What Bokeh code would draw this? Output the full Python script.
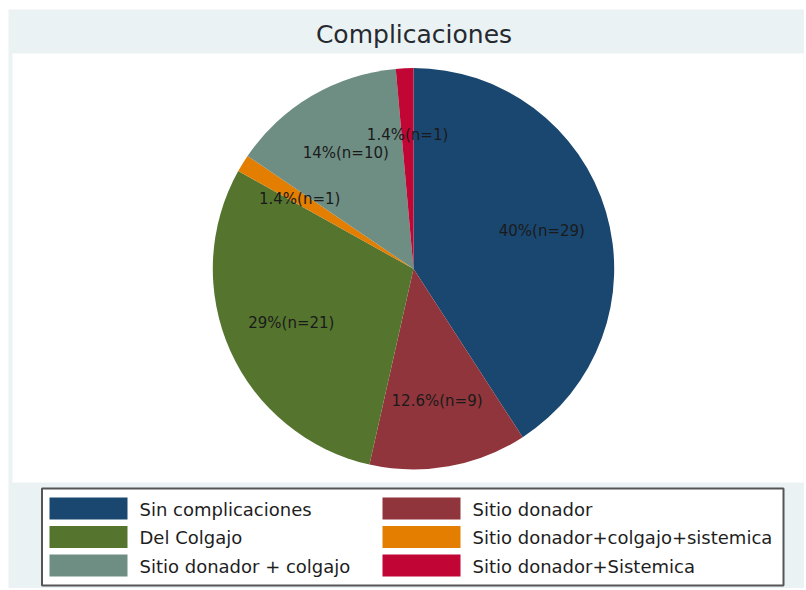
from bokeh.plotting import figure
from bokeh.models import Range1d, ColumnDataSource
from bokeh.embed import file_html
from bokeh.resources import INLINE
from bokeh.core.properties import value
import numpy as np

# ---- data ----
title = "Complicaciones"
categories = ["Sin complicaciones", "Sitio donador", "Del Colgajo",
              "Sitio donador+colgajo+sistemica", "Sitio donador + colgajo",
              "Sitio donador+Sistemica"]
counts = [29, 9, 21, 1, 10, 1]
pct_labels = ["40%", "12.6%", "29%", "1.4%", "14%", "1.4%"]
colors = ["#1a476f", "#90353b", "#55752f", "#e37e00", "#6e8e84", "#c10534"]

# ---- layout (coordinates given in page pixels) ----
W, H = 804, 588
OX, OY = 0, 0
FONT = "DejaVu Sans"
BG = "#eaf2f3"


def fx(px):
    return px - OX


def fy(py):
    return H - (py - OY)


p = figure(width=W, height=H, x_range=Range1d(0, W), y_range=Range1d(0, H),
           output_backend="svg", toolbar_location=None, min_border=0,
           x_axis_type=None, y_axis_type=None,
           background_fill_color="white", border_fill_color="white",
           outline_line_color=None)
p.grid.visible = False

# graph region
p.quad(left=fx(8), right=fx(W + 2), top=fy(9), bottom=fy(H + 2),
       fill_color=BG, line_color=None)
# plot region
p.quad(left=fx(12), right=fx(803), top=fy(53), bottom=fy(482),
       fill_color="white", line_color=None)

# title
p.text(x=[fx(413.5)], y=[fy(33.5)], text=[title], text_align="center",
       text_baseline="middle", text_font=value(FONT),
       text_font_size="25px", text_color="#262a30")

# pie
cx, cy, R = fx(413), fy(268.3), 200.7
cnt = np.array(counts, dtype=float)
total = cnt.sum()
cum = np.concatenate([[0.0], np.cumsum(cnt)])
start = 90 - cum[:-1] / total * 360
end = 90 - cum[1:] / total * 360
src = ColumnDataSource(dict(start=start, end=end, color=colors))
p.wedge(x=cx, y=cy, radius=R, radius_units="screen",
        start_angle="start", end_angle="end", start_angle_units="deg",
        end_angle_units="deg", direction="clock", fill_color="color",
        line_color=None, source=src)

mid = np.deg2rad(90 - (cum[:-1] + cnt / 2) / total * 360)
lx = cx + (2 / 3) * R * np.cos(mid)
ly = cy + (2 / 3) * R * np.sin(mid)
ltext = [f"{pc}(n={n})" for pc, n in zip(pct_labels, counts)]
p.text(x=lx, y=ly, text=ltext, text_align="center", text_baseline="middle",
       text_font=value(FONT), text_font_size="15px",
       text_color="#1a1a1a")

# legend
p.quad(left=fx(41.5), right=fx(783), top=fy(488), bottom=fy(585),
       fill_color="white", line_color="#555555", line_width=2)
rows = np.arange(len(categories)) // 2
cols = np.arange(len(categories)) % 2
sw_left = np.where(cols == 0, 49, 382)
sw_top = 497 + rows * 28.5
p.quad(left=fx(sw_left), right=fx(sw_left + 78), top=fy(sw_top),
       bottom=fy(sw_top + 22), fill_color=colors, line_color=None)
tx = np.where(cols == 0, 139, 472)
ty = 509 + rows * 28.25
p.text(x=fx(tx), y=fy(ty), text=categories, text_align="left",
       text_baseline="middle", text_font=value(FONT),
       text_font_size="18px", text_color="#1e1e1e")

open("out.html", "w").write(file_html(p, INLINE))
